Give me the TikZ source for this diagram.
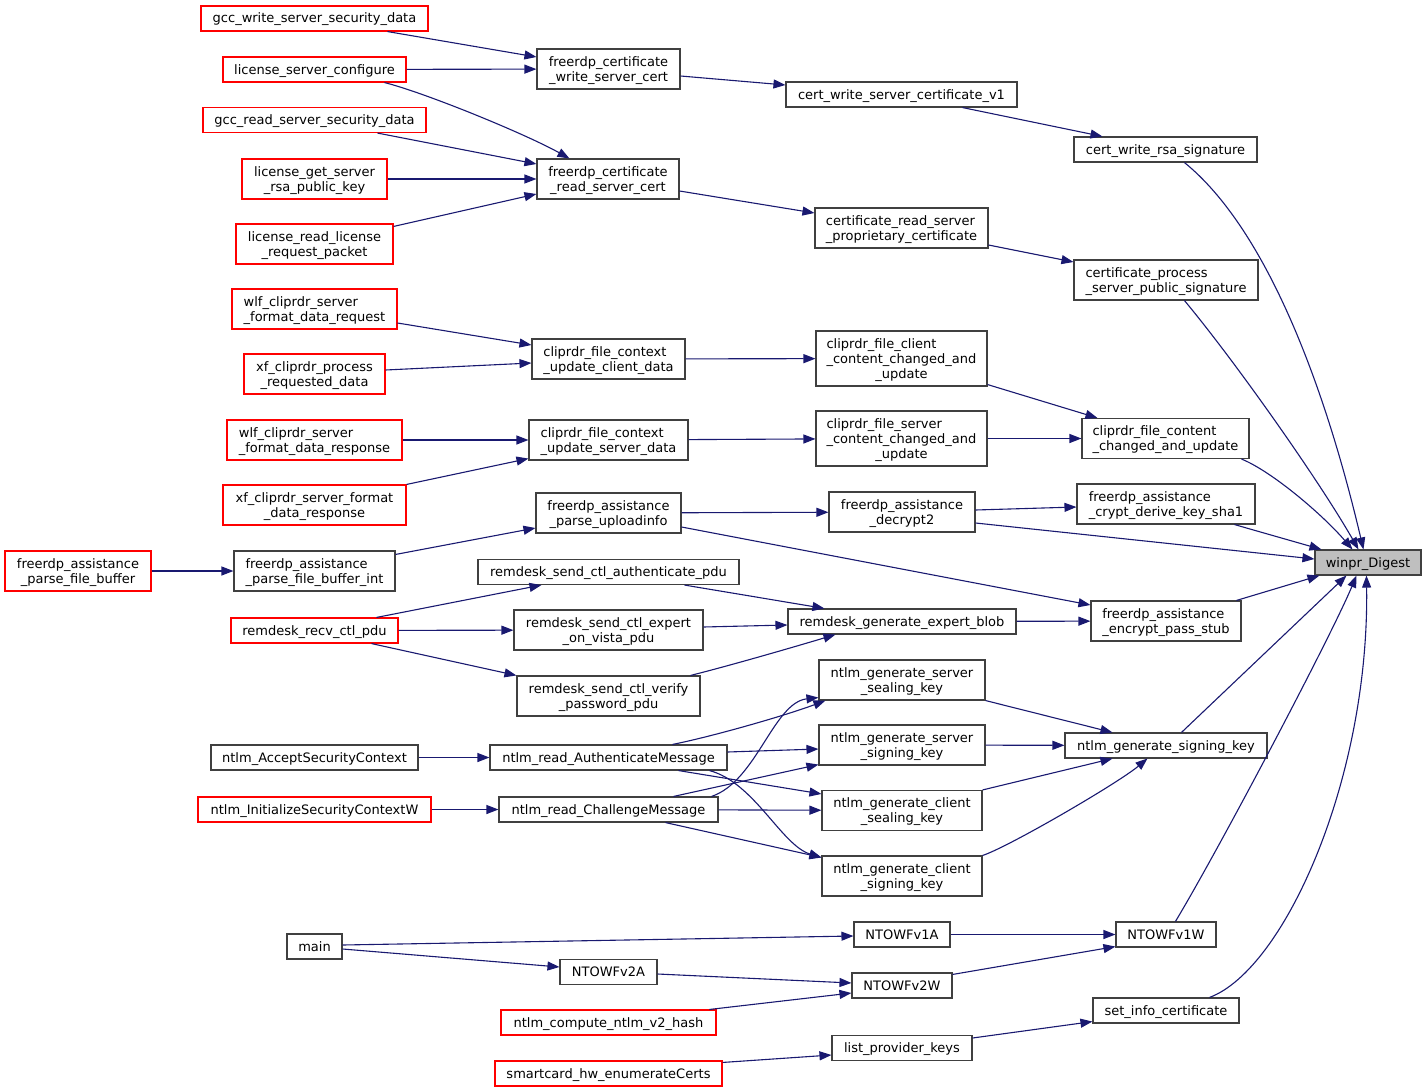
\documentclass[tikz,border=0pt]{standalone}
\usepackage{fontspec}
\setmainfont{DejaVu Sans}
\usetikzlibrary{arrows.meta}
\definecolor{edgeblue}{HTML}{191970}
\definecolor{boxgray}{HTML}{404040}
\definecolor{hlgray}{HTML}{BFBFBF}
\newcommand\dgfont{\fontsize{13}{15}\selectfont}
\newcommand\oneln[1]{\raisebox{-1.5pt}[\height][\depth]{\begin{tabular}{@{}c@{}}#1\end{tabular}}}
\newcommand\multln[2]{\raisebox{-1.5pt}[\height][\depth]{\begin{tabular}{@{}l@{}}#1\\\multicolumn{1}{@{}c@{}}{#2}\end{tabular}}}
\begin{document}
\begin{tikzpicture}[x=1pt,y=-1pt,
  fn/.style={draw=boxgray, line width=1.1pt, fill=white, inner sep=0pt, font=\dgfont},
  ext/.style={fn, draw=red},
  hl/.style={fn, fill=hlgray},
  edge/.style={draw=edgeblue, line width=1.1pt, -{Triangle[length=12pt,width=9pt]}}]
\useasboundingbox (0,0) rectangle (1427,1092);
% column 1
\node[ext, minimum width=227pt, minimum height=25pt] (gccw) at (314.5,18.5) {\oneln{gcc\_write\_server\_security\_data}};
\node[ext, minimum width=183pt, minimum height=25pt] (lsc) at (314.5,69.5) {\oneln{license\_server\_configure}};
\node[ext, minimum width=223pt, minimum height=25pt] (gccr) at (314.5,120) {\oneln{gcc\_read\_server\_security\_data}};
\node[ext, minimum width=145pt, minimum height=40pt] (lgsrpk) at (314.5,179) {\multln{license\_get\_server}{\_rsa\_public\_key}};
\node[ext, minimum width=157pt, minimum height=40pt] (lrlrp) at (314.5,244) {\multln{license\_read\_license}{\_request\_packet}};
\node[ext, minimum width=165pt, minimum height=40pt] (wlfreq) at (314.5,309) {\multln{wlf\_cliprdr\_server}{\_format\_data\_request}};
\node[ext, minimum width=141pt, minimum height=40pt] (xfproc) at (314.5,374) {\multln{xf\_cliprdr\_process}{\_requested\_data}};
\node[ext, minimum width=175pt, minimum height=40pt] (wlfresp) at (314.5,440) {\multln{wlf\_cliprdr\_server}{\_format\_data\_response}};
\node[ext, minimum width=183pt, minimum height=40pt] (xfresp) at (314.5,505) {\multln{xf\_cliprdr\_server\_format}{\_data\_response}};
\node[ext, minimum width=146pt, minimum height=40pt] (fapfb) at (78,571) {\multln{freerdp\_assistance}{\_parse\_file\_buffer}};
\node[fn, minimum width=161pt, minimum height=40pt] (fapfbi) at (314.5,571) {\multln{freerdp\_assistance}{\_parse\_file\_buffer\_int}};
\node[ext, minimum width=167pt, minimum height=25pt] (rrcp) at (314.5,630.5) {\oneln{remdesk\_recv\_ctl\_pdu}};
\node[fn, minimum width=207pt, minimum height=25pt] (nasc) at (314.5,757.5) {\oneln{ntlm\_AcceptSecurityContext}};
\node[ext, minimum width=233pt, minimum height=25pt] (nisc) at (314.5,809.5) {\oneln{ntlm\_InitializeSecurityContextW}};
\node[fn, minimum width=55pt, minimum height=25pt] (main) at (314.5,946.5) {\oneln{main}};
% column 2
\node[fn, minimum width=143pt, minimum height=40pt] (fcwsc) at (608.5,69) {\multln{freerdp\_certificate}{\_write\_server\_cert}};
\node[fn, minimum width=142pt, minimum height=40pt] (fcrsc) at (608,179) {\multln{freerdp\_certificate}{\_read\_server\_cert}};
\node[fn, minimum width=153pt, minimum height=40pt] (cfcucd) at (608.5,359) {\multln{cliprdr\_file\_context}{\_update\_client\_data}};
\node[fn, minimum width=159pt, minimum height=40pt] (cfcusd) at (608.5,440) {\multln{cliprdr\_file\_context}{\_update\_server\_data}};
\node[fn, minimum width=145pt, minimum height=40pt] (fapu) at (608.5,513) {\multln{freerdp\_assistance}{\_parse\_uploadinfo}};
\node[fn, minimum width=261pt, minimum height=25pt] (rscap) at (608.5,572) {\oneln{remdesk\_send\_ctl\_authenticate\_pdu}};
\node[fn, minimum width=189pt, minimum height=40pt] (rsceov) at (608.5,630) {\multln{remdesk\_send\_ctl\_expert}{\_on\_vista\_pdu}};
\node[fn, minimum width=183pt, minimum height=40pt] (rscvp) at (608.5,696) {\multln{remdesk\_send\_ctl\_verify}{\_password\_pdu}};
\node[fn, minimum width=237pt, minimum height=25pt] (nram) at (608.5,757.5) {\oneln{ntlm\_read\_AuthenticateMessage}};
\node[fn, minimum width=219pt, minimum height=25pt] (nrcm) at (608.5,809.5) {\oneln{ntlm\_read\_ChallengeMessage}};
\node[fn, minimum width=97pt, minimum height=25pt] (ntowfvtwoa) at (608.5,972) {\oneln{NTOWFv2A}};
\node[ext, minimum width=215pt, minimum height=25pt] (ncn2h) at (608.5,1022.5) {\oneln{ntlm\_compute\_ntlm\_v2\_hash}};
\node[ext, minimum width=227pt, minimum height=25pt] (shec) at (608.5,1073.5) {\oneln{smartcard\_hw\_enumerateCerts}};
% column 3
\node[fn, minimum width=231pt, minimum height=25pt] (cwscv1) at (901.5,94.5) {\oneln{cert\_write\_server\_certificate\_v1}};
\node[fn, minimum width=173pt, minimum height=40pt] (crspc) at (901.5,228) {\multln{certificate\_read\_server}{\_proprietary\_certificate}};
\node[fn, minimum width=171pt, minimum height=55pt] (cfcccu) at (901.5,358.5) {\multln{cliprdr\_file\_client\\\_content\_changed\_and}{\_update}};
\node[fn, minimum width=171pt, minimum height=55pt] (cfsccu) at (901.5,438.5) {\multln{cliprdr\_file\_server\\\_content\_changed\_and}{\_update}};
\node[fn, minimum width=146pt, minimum height=40pt] (fad2) at (902,512) {\multln{freerdp\_assistance}{\_decrypt2}};
\node[fn, minimum width=228pt, minimum height=25pt] (rgeb) at (902,621.5) {\oneln{remdesk\_generate\_expert\_blob}};
\node[fn, minimum width=166pt, minimum height=40pt] (ngssk) at (902,680) {\multln{ntlm\_generate\_server}{\_sealing\_key}};
\node[fn, minimum width=166pt, minimum height=40pt] (ngssigk) at (902,745) {\multln{ntlm\_generate\_server}{\_signing\_key}};
\node[fn, minimum width=160pt, minimum height=40pt] (ngcsk) at (902,810.5) {\multln{ntlm\_generate\_client}{\_sealing\_key}};
\node[fn, minimum width=160pt, minimum height=40pt] (ngcsigk) at (902,876) {\multln{ntlm\_generate\_client}{\_signing\_key}};
\node[fn, minimum width=96pt, minimum height=25pt] (ntowfvonea) at (902,934.5) {\oneln{NTOWFv1A}};
\node[fn, minimum width=100pt, minimum height=25pt] (ntowfvtwow) at (902,985.5) {\oneln{NTOWFv2W}};
\node[fn, minimum width=140pt, minimum height=25pt] (lpk) at (902,1048) {\oneln{list\_provider\_keys}};
% column 4
\node[fn, minimum width=183pt, minimum height=25pt] (cwrs) at (1165.5,149.5) {\oneln{cert\_write\_rsa\_signature}};
\node[fn, minimum width=184pt, minimum height=40pt] (cpsps) at (1166,280) {\multln{certificate\_process}{\_server\_public\_signature}};
\node[fn, minimum width=167pt, minimum height=40pt] (cfccu) at (1165.5,438.5) {\multln{cliprdr\_file\_content}{\_changed\_and\_update}};
\node[fn, minimum width=178pt, minimum height=40pt] (facdks) at (1166,504) {\multln{freerdp\_assistance}{\_crypt\_derive\_key\_sha1}};
\node[fn, minimum width=150pt, minimum height=40pt] (faeps) at (1166,621) {\multln{freerdp\_assistance}{\_encrypt\_pass\_stub}};
\node[fn, minimum width=202pt, minimum height=25pt] (ngsk) at (1166,745.5) {\oneln{ntlm\_generate\_signing\_key}};
\node[fn, minimum width=100pt, minimum height=25pt] (ntowfvonew) at (1166,934.5) {\oneln{NTOWFv1W}};
\node[fn, minimum width=146pt, minimum height=25pt] (sic) at (1166,1010.5) {\oneln{set\_info\_certificate}};
% target
\node[hl, minimum width=106pt, minimum height=25pt] (winpr) at (1368,562.5) {\oneln{winpr\_Digest}};
% edges
\draw[edge] ([xshift=187pt]gccw.south west) -- ([yshift=12pt]fcwsc.west);
\draw[edge] (lsc) -- (fcwsc);
\draw[edge] ([xshift=162pt]lsc.south west) .. controls +(40,10) and +(-45,-25) .. ([xshift=33pt]fcrsc.north west);
\draw[edge] ([xshift=175pt]gccr.south west) -- ([yshift=15pt]fcrsc.west);
\draw[edge] (lgsrpk) -- (fcrsc);
\draw[edge] ([yshift=-3pt]lrlrp.north east) -- ([yshift=-15pt]fcrsc.west);
\draw[edge] ([yshift=-7pt]fcwsc.east) -- ([yshift=9.5pt]cwscv1.west);
\draw[edge] ([xshift=177pt]cwscv1.south west) -- ([xshift=29pt]cwrs.north west);
\draw[edge] ([xshift=111pt]cwrs.south west) .. controls +(80,65) and +(-40,-170) .. ([xshift=49pt]winpr.north west);
\draw[edge] ([yshift=-12pt]fcrsc.east) -- ([yshift=15pt]crspc.west);
\draw[edge] ([yshift=-17pt]crspc.east) -- ([yshift=18pt]cpsps.west);
\draw[edge] ([xshift=111pt]cpsps.south west) .. controls +(50,60) and +(-40,-70) .. ([xshift=44pt]winpr.north west);
\draw[edge] ([yshift=-14pt]wlfreq.east) -- ([yshift=14pt]cfcucd.west);
\draw[edge] ([yshift=4pt]xfproc.east) -- ([yshift=-4pt]cfcucd.west);
\draw[edge] (cfcucd) -- (cfcccu);
\draw[edge] ([yshift=2pt]cfcccu.south east) -- ([xshift=16pt]cfccu.north west);
\draw[edge] (wlfresp) -- (cfcusd);
\draw[edge] (xfresp.north east) -- ([yshift=2pt]cfcusd.south west);
\draw[edge] (cfcusd) -- (cfsccu);
\draw[edge] (cfsccu) -- (cfccu);
\draw[edge] ([xshift=160pt]cfccu.south west) .. controls +(30,12) and +(-30,-35) .. ([xshift=38pt]winpr.north west);
\draw[edge] (fapfb) -- (fapfbi);
\draw[edge] ([yshift=-4pt]fapfbi.north east) -- ([yshift=-15pt]fapu.west);
\draw[edge] (fapu) -- (fad2);
\draw[edge] ([yshift=-14pt]fapu.east) -- ([yshift=16pt]faeps.west);
\draw[edge] ([yshift=2pt]fad2.east) -- ([yshift=-3pt]facdks.west);
\draw[edge] ([yshift=-11pt]fad2.east) -- ([yshift=3.5pt]winpr.west);
\draw[edge] ([xshift=158pt]facdks.south west) -- ([xshift=7pt]winpr.north west);
\draw[edge] ([xshift=146pt]faeps.north west) -- ([xshift=5pt]winpr.south west);
\draw[edge] ([xshift=146pt]rrcp.north west) -- ([xshift=64pt]rscap.south west);
\draw[edge] (rrcp) -- (rsceov);
\draw[edge] ([xshift=141pt]rrcp.south west) -- (rscvp.north west);
\draw[edge] ([xshift=207pt]rscap.south west) -- ([xshift=37pt]rgeb.north west);
\draw[edge] ([yshift=3pt]rsceov.east) -- ([yshift=-3.5pt]rgeb.west);
\draw[edge] ([xshift=174pt]rscvp.north west) .. controls +(40,-10) and +(-40,12) .. ([xshift=48pt]rgeb.south west);
\draw[edge] (rgeb) -- (faeps);
\draw[edge] (ngssk.south east) -- ([xshift=48pt]ngsk.north west);
\draw[edge] (ngssigk) -- (ngsk);
\draw[edge] (ngcsk.north east) -- ([xshift=48pt]ngsk.south west);
\draw[edge] (ngcsigk.north east) .. controls +(25,-8) and +(-30,25) .. ([xshift=83pt]ngsk.south west);
\draw[edge] ([xshift=117pt]ngsk.north west) -- ([xshift=32pt]winpr.south west);
\draw[edge] (nasc) -- (nram);
\draw[edge] (nisc) -- (nrcm);
\draw[edge] ([xshift=183pt]nram.north west) .. controls +(40,-8) and +(-40,15) .. ([xshift=7pt]ngssk.south west);
\draw[edge] ([yshift=5.5pt]nram.east) -- ([yshift=-4pt]ngssigk.west);
\draw[edge] ([xshift=189pt]nram.south west) -- ([yshift=-4pt]ngcsk.north west);
\draw[edge] ([xshift=220pt]nram.south west) .. controls +(45,12) and +(-40,-12) .. ([yshift=-2pt]ngcsigk.north west);
\draw[edge] ([xshift=213pt]nrcm.north west) .. controls +(45,-15) and +(-45,5) .. ([yshift=3pt]ngssk.south west);
\draw[edge] ([xshift=175pt]nrcm.north west) -- ([yshift=1pt]ngssigk.south west);
\draw[edge] (nrcm) -- (ngcsk);
\draw[edge] ([xshift=167pt]nrcm.south west) -- ([yshift=-2pt]ngcsigk.north west);
\draw[edge] ([yshift=1.5pt]main.east) -- ([yshift=-1.5pt]ntowfvonea.west);
\draw[edge] ([yshift=-2.5pt]main.east) -- ([yshift=5pt]ntowfvtwoa.west);
\draw[edge] (ntowfvonea) -- (ntowfvonew);
\draw[edge] ([yshift=-2pt]ntowfvtwoa.east) -- ([yshift=2.5pt]ntowfvtwow.west);
\draw[edge] ([xshift=209pt]ncn2h.north west) -- ([yshift=-7.5pt]ntowfvtwow.west);
\draw[edge] ([yshift=-2pt]ntowfvtwow.north east) -- ([yshift=1pt]ntowfvonew.south west);
\draw[edge] ([xshift=60pt]ntowfvonew.north west) .. controls +(45,-75) and +(-25,60) .. ([xshift=42pt]winpr.south west);
\draw[edge] ([yshift=10pt]lpk.east) -- ([yshift=2pt]sic.south west);
\draw[edge] ([yshift=-2pt]shec.north east) -- ([yshift=-7pt]lpk.west);
\draw[edge] ([xshift=117pt]sic.north west) .. controls +(75,-28) and +(3,203) .. ([xshift=52pt]winpr.south west);
\end{tikzpicture}
\end{document}
